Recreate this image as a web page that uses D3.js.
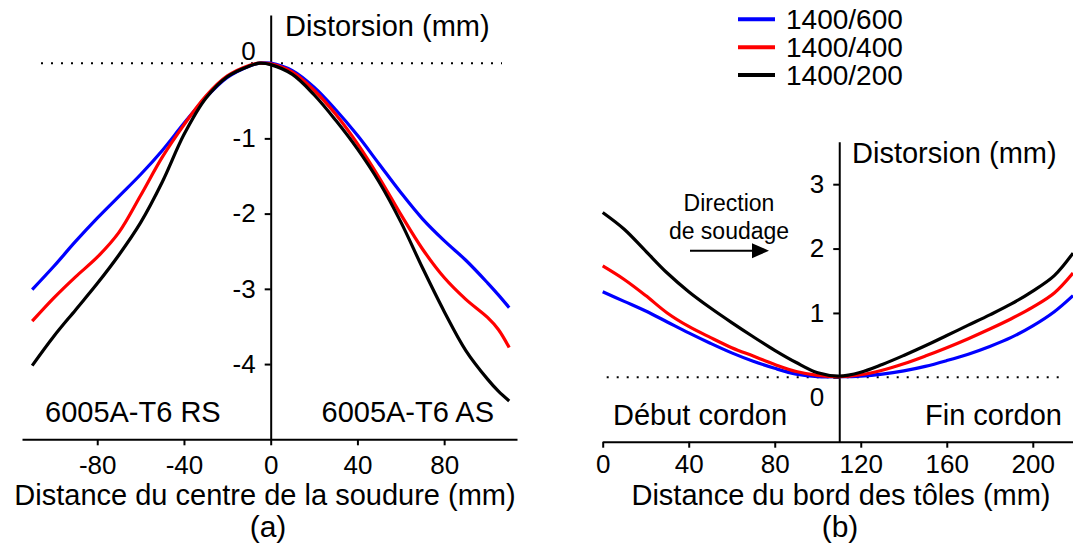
<!DOCTYPE html>
<html><head><meta charset="utf-8">
<script src="https://cdn.jsdelivr.net/npm/d3@7"></script>
<style>
body{margin:0;background:#fff}
svg{display:block}
text{font-family:"Liberation Sans",Arial,sans-serif;fill:#000}
</style>
</head><body>
<svg id="c" width="1073" height="547"></svg>
<script>
// ---------- DATA ----------
const seriesNames  = ["1400/600", "1400/400", "1400/200"];
const seriesColors = ["#0000ff", "#ff0000", "#000000"];

// (a) distortion vs distance from weld centre (mm)
const xA    = [-110,-100,-90,-80,-70,-60,-50,-40,-30,-20,-10,-5,0,10,20,30,40,50,60,70,80,90,100,105,110];
const a600  = [-3.01,-2.70,-2.37,-2.06,-1.77,-1.48,-1.16,-0.80,-0.46,-0.19,-0.04,0.00,0.00,-0.10,-0.32,-0.62,-0.96,-1.34,-1.72,-2.07,-2.36,-2.62,-2.92,-3.08,-3.25];
const a400  = [-3.43,-3.12,-2.84,-2.58,-2.25,-1.76,-1.25,-0.82,-0.44,-0.17,-0.03,0.00,-0.01,-0.12,-0.36,-0.68,-1.07,-1.52,-2.01,-2.47,-2.85,-3.14,-3.38,-3.54,-3.78];
const a200  = [-4.02,-3.63,-3.28,-2.93,-2.55,-2.12,-1.58,-0.95,-0.47,-0.18,-0.04,0.00,-0.02,-0.15,-0.42,-0.76,-1.14,-1.58,-2.11,-2.72,-3.30,-3.82,-4.20,-4.36,-4.49];

// (b) distortion vs distance from plate edge (mm)
const xB    = [0,10,20,30,40,50,60,70,80,90,100,110,120,130,140,150,160,170,180,190,200,210,218.7];
const b600  = [1.33,1.18,1.03,0.86,0.69,0.53,0.38,0.25,0.14,0.05,0.01,0.01,0.02,0.05,0.10,0.17,0.26,0.36,0.48,0.62,0.80,1.02,1.27];
const b400  = [1.73,1.52,1.27,1.00,0.79,0.62,0.46,0.33,0.20,0.09,0.03,0.01,0.04,0.11,0.21,0.33,0.46,0.60,0.75,0.91,1.09,1.31,1.62];
const b200  = [2.56,2.30,1.96,1.62,1.33,1.08,0.85,0.63,0.42,0.23,0.07,0.02,0.08,0.20,0.34,0.49,0.65,0.81,0.97,1.14,1.34,1.58,1.93];

const ticksAX = [-80,-40,0,40,80];
const ticksAY = [0,-1,-2,-3,-4];
const ticksBX = [0,40,80,120,160,200];
const ticksBY = [0,1,2,3];

const seriesA = [a600, a400, a200];
const seriesB = [b600, b400, b200];

// ---------- CHART ----------
const svg = d3.select("#c");
const FS_TICK = 26, FS_TXT = 29;

function styleAxis(g){
  g.selectAll("path.domain").attr("stroke","#000").attr("stroke-width",2);
  g.selectAll(".tick line").attr("stroke","#000").attr("stroke-width",2);
  g.selectAll(".tick text").attr("font-size",FS_TICK)
    .attr("font-family",'"Liberation Sans",Arial,sans-serif').attr("fill","#000");
  g.attr("font-family",null).attr("font-size",null);
}

function panel(cfg){
  const x = d3.scaleLinear().domain(cfg.xDom).range(cfg.xRange);
  const y = d3.scaleLinear().domain(cfg.yDom).range(cfg.yRange);
  const g = svg.append("g");

  // dotted zero line
  g.append("line").attr("x1",cfg.dotX[0]).attr("x2",cfg.dotX[1])
    .attr("y1",y(0)).attr("y2",y(0))
    .attr("stroke","#000").attr("stroke-width",2).attr("stroke-dasharray","2,8");

  // x axis
  const gx = g.append("g").attr("transform",`translate(0,${cfg.xAxisY})`)
    .call(d3.axisBottom(x).tickValues(cfg.xTicks).tickSize(6).tickSizeOuter(0).tickPadding(cfg.xPad).tickFormat(d3.format("d")));
  styleAxis(gx);
  gx.selectAll(".tick text").text(d => d < 0 ? "-" + Math.abs(d) : d);

  // y axis
  const gy = g.append("g").attr("transform",`translate(${x(cfg.yAxisAt)},0)`)
    .call(d3.axisLeft(y).tickValues(cfg.yTicks).tickSize(6).tickSizeOuter(0).tickPadding(9).tickFormat(d3.format("d")));
  styleAxis(gy);
  gy.selectAll(".tick text").text(d => d < 0 ? "-" + Math.abs(d) : d);
  gy.selectAll(".tick").filter(d => d === 0).select("text").attr("y", cfg.zeroDy);

  // curves
  const line = d3.line().x((d,i)=>x(cfg.xs[i])).y(d=>y(d)).curve(d3.curveCatmullRom.alpha(0.5));
  cfg.series.forEach((s,i)=>{
    g.append("path").datum(s).attr("d",line).attr("fill","none")
      .attr("stroke",seriesColors[i]).attr("stroke-width",3.2)
      .attr("stroke-linecap","butt").attr("stroke-linejoin","round");
  });
  return {x,y,g};
}

const A = panel({
  xDom:[-114.7,113.6], xRange:[22,517],
  yDom:[-5,0.64], yRange:[439.3,15],
  xAxisY:439.3, yAxisAt:0, xTicks:ticksAX, yTicks:ticksAY,
  xPad:10, zeroDy:-12, dotX:[41,502],
  xs:xA, series:seriesA
});

const B = panel({
  xDom:[0,218.7], xRange:[602.7,1073],
  yDom:[-1,3.66], yRange:[441.7,141.7],
  xAxisY:441.7, yAxisAt:110, xTicks:ticksBX, yTicks:ticksBY,
  xPad:6.5, zeroDy:20, dotX:[606.7,1066.7],
  xs:xB, series:seriesB
});

function txt(x,y,s,size,anchor,family){
  svg.append("text").attr("x",x).attr("y",y).attr("font-size",size)
    .attr("text-anchor",anchor||"start")
    .attr("font-family",family||'"Liberation Sans",Arial,sans-serif').text(s);
}

// titles and annotations
txt(285,36,"Distorsion (mm)",FS_TXT);
txt(852,163,"Distorsion (mm)",FS_TXT);
txt(265,505,"Distance du centre de la soudure (mm)",FS_TXT,"middle");
txt(841,505,"Distance du bord des tôles (mm)",FS_TXT,"middle");
txt(45,422,"6005A-T6 RS",FS_TXT);
txt(494,422,"6005A-T6 AS",FS_TXT,"end");
txt(613,425,"Début cordon",FS_TXT);
txt(1062,425,"Fin cordon",FS_TXT,"end");
txt(268,537,"(a)",30,"middle",'"DejaVu Serif",serif');
txt(840,537,"(b)",30,"middle",'"DejaVu Serif",serif');
txt(729,211,"Direction",23,"middle");
txt(729,239,"de soudage",23,"middle");

// arrow
svg.append("line").attr("x1",690).attr("x2",754).attr("y1",250.7).attr("y2",250.7)
  .attr("stroke","#000").attr("stroke-width",2);
svg.append("path").attr("d","M752,243.2 L769,250.7 L752,258.2 Z").attr("fill","#000");

// legend
const leg = svg.append("g");
seriesNames.forEach((n,i)=>{
  const yy = 19.3 + i*27.9;
  leg.append("line").attr("x1",738).attr("x2",775).attr("y1",yy).attr("y2",yy)
    .attr("stroke",seriesColors[i]).attr("stroke-width",4);
  leg.append("text").attr("x",786).attr("y",yy+9.5).attr("font-size",28).text(n);
});
</script>
</body></html>
